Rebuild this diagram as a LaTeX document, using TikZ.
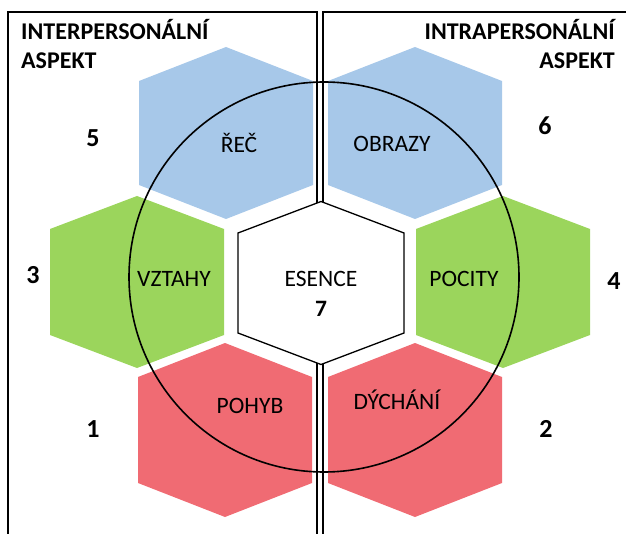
\documentclass[tikz,border=0pt]{standalone}
\usepackage{fontspec}
\setmainfont{Carlito}
\definecolor{hexblue}{RGB}{167,200,233}
\definecolor{hexgreen}{RGB}{155,213,92}
\definecolor{hexred}{RGB}{240,107,115}
\tikzset{
  pics/hexa/.style n args={4}{code={
    \path[#1] (-#2,-#4)--(0,-#3)--(#2,-#4)--(#2,#4)--(0,#3)--(-#2,#4)--cycle;}},
  panel/.style={draw=black,line width=1.3pt},
  ring/.style={draw=black,line width=1.6pt},
  core/.style={fill=white,draw=black,line width=1.3pt},
  heading/.style={font=\bfseries\fontsize{24}{28}\selectfont,inner sep=0pt},
  num/.style={font=\bfseries\fontsize{26}{30}\selectfont,inner sep=0pt,anchor=base},
  lbl/.style={font=\fontsize{23.5}{28}\selectfont,inner sep=0pt,anchor=base}
}
\begin{document}
\begin{tikzpicture}[x=1pt,y=-1pt]
\useasboundingbox (0,0) rectangle (626,534);
\clip (0,0) rectangle (626,534);
% hexagon centres
\coordinate (rec) at (226,133);
\coordinate (obr) at (415,133);
\coordinate (vzt) at (137,282);
\coordinate (poc) at (503,282);
\coordinate (poh) at (225,430);
\coordinate (dych) at (415,430);
\coordinate (es) at (321,283);
% coloured hexagons
\pic at (rec) {hexa={fill=hexblue}{87}{86}{52}};
\pic at (obr) {hexa={fill=hexblue}{87}{86}{52}};
\pic at (vzt) {hexa={fill=hexgreen}{87}{86}{53}};
\pic at (poc) {hexa={fill=hexgreen}{87}{86}{53}};
\pic at (poh) {hexa={fill=hexred}{87}{87}{53}};
\pic at (dych) {hexa={fill=hexred}{87}{87}{53}};
% the two panels
\draw[panel] (8,560) -- (8,12) -- (317,12) -- (317,560);
\draw[panel] (323,560) -- (323,12) -- (660,12);
% central hexagon
\pic at (es) {hexa={core}{83}{81.5}{50}};
% circle
\draw[ring] (324,277) circle[radius=195pt];
% headings
\node[heading,anchor=base west] (hl1) at (21,40) {INTERPERSONÁLNÍ};
\node[heading,anchor=base west] (hl2) at (21,69) {ASPEKT};
\node[heading,anchor=base east] (hr1) at (615,40) {INTRAPERSONÁLNÍ};
\node[heading,anchor=base east] (hr2) at (615,69) {ASPEKT};
% numbers
\node[num] (n5) at (93,147) {5};
\node[num] (n6) at (545,135) {6};
\node[num] (n3) at (33,284) {3};
\node[num] (n4) at (614,290) {4};
\node[num] (n1) at (93,437) {1};
\node[num] (n2) at (546,437) {2};
% hexagon labels
\node[lbl] (trec) at (239,153) {ŘEČ};
\node[lbl] (tobr) at (392,152) {OBRAZY};
\node[lbl] (tvzt) at (174,287) {VZTAHY};
\node[lbl] (tpoc) at (464,287) {POCITY};
\node[lbl] (tes) at (321,287) {ESENCE};
\node[num,font=\bfseries\fontsize{23.5}{28}\selectfont] (t7) at (321,317) {7};
\node[lbl] (tpoh) at (250,413) {POHYB};
\node[lbl] (tdych) at (397,409) {DÝCHÁNÍ};
\end{tikzpicture}
\end{document}
